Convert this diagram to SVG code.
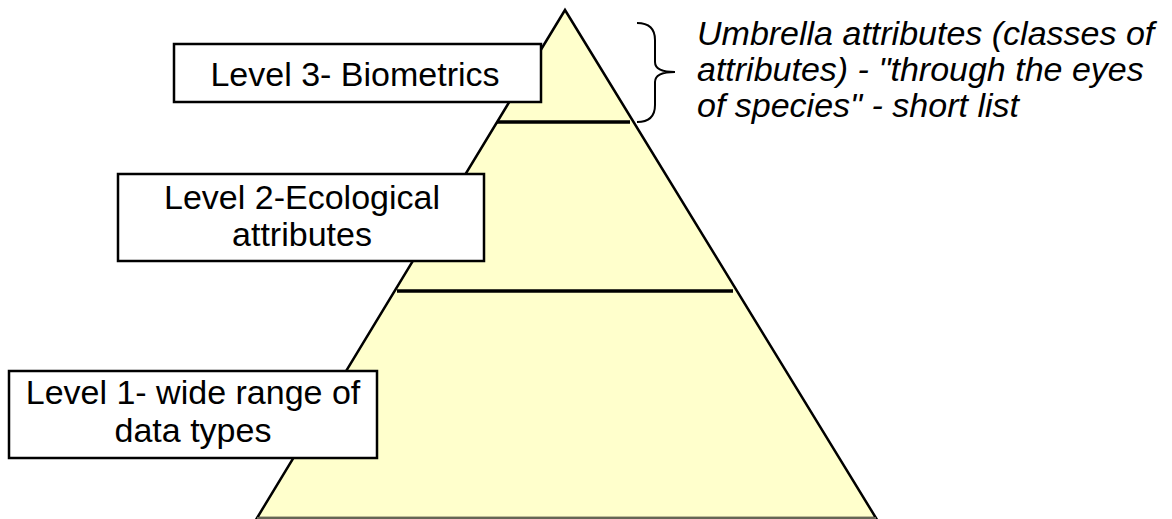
<svg xmlns="http://www.w3.org/2000/svg" width="1172" height="519" viewBox="0 0 1172 519">
<style>
.box{fill:#fff;stroke:#000;stroke-width:2.5}
.lbl{font-family:"Liberation Sans",Arial,sans-serif;font-size:34px;fill:#000;text-anchor:middle}
.note{font-family:"Liberation Sans",Arial,sans-serif;font-size:34px;font-style:italic;fill:#000}
</style>
<rect width="1172" height="519" fill="#fff"/>
<g id="pyramid">
<polygon points="565,10 257,518 876,518" fill="#FFFFCC" stroke="#000" stroke-width="2.5" stroke-linejoin="miter"/>
<line x1="257" y1="518" x2="876" y2="518" stroke="#666655" stroke-width="2"/>
<line x1="497" y1="122" x2="630" y2="122" stroke="#000" stroke-width="3.5"/>
<line x1="397" y1="291" x2="733" y2="291" stroke="#000" stroke-width="3.5"/>
</g>
<g id="level3">
<rect class="box" x="174" y="44" width="367" height="58"/>
<text class="lbl" x="355" y="86">Level 3- Biometrics</text>
</g>
<g id="level2">
<rect class="box" x="118" y="174" width="366" height="87"/>
<text class="lbl" x="302" y="209">Level 2-Ecological</text>
<text class="lbl" x="302" y="246">attributes</text>
</g>
<g id="level1">
<rect class="box" x="9" y="371" width="368" height="87"/>
<text class="lbl" x="193" y="404">Level 1- wide range of</text>
<text class="lbl" x="193" y="442">data types</text>
</g>
<g id="connectors">
<path d="M637,23 Q655,23 655,40 L655,62 Q655,72 675,72 Q655,72 655,82 L655,105 Q655,122 637,122" fill="none" stroke="#000" stroke-width="2"/>
</g>
<g id="note">
<text class="note" x="697" y="45">Umbrella attributes (classes of</text>
<text class="note" x="697" y="81">attributes) - "through the eyes</text>
<text class="note" x="697" y="117">of species" - short list</text>
</g>
</svg>
